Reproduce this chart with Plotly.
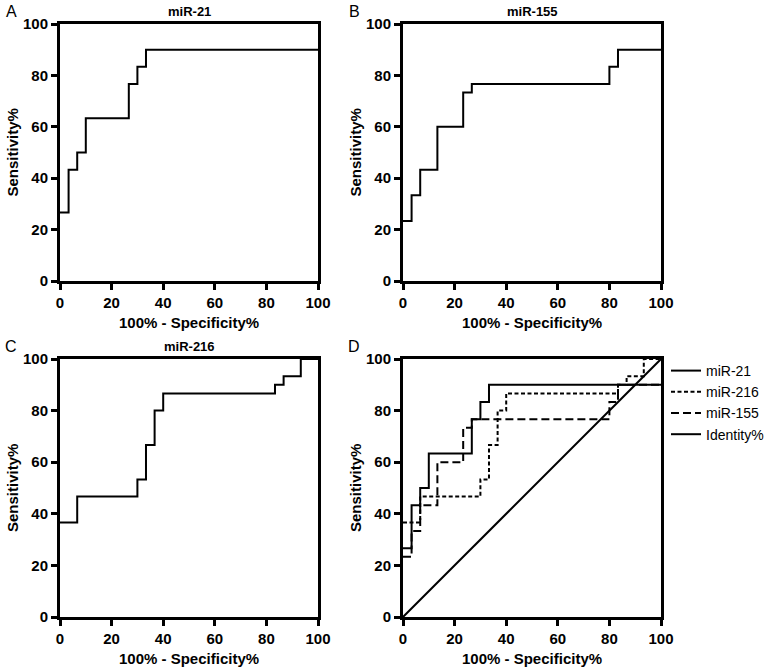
import plotly.graph_objects as go

W, H = 784, 671

# ---- data ----
fpr_mir21 = [0, 3.33, 6.67, 10, 26.67, 30, 33.33, 100]
sens_mir21 = [26.67, 43.33, 50, 63.33, 76.67, 83.33, 90, 90]

fpr_mir155 = [0, 3.33, 6.67, 13.33, 23.33, 26.67, 80, 83.33, 100]
sens_mir155 = [23.33, 33.33, 43.33, 60, 73.33, 76.67, 83.33, 90, 90]

fpr_mir216 = [0, 6.67, 30, 33.33, 36.67, 40, 83.33, 86.67, 93.33, 100]
sens_mir216 = [36.67, 46.67, 53.33, 66.67, 80, 86.67, 90, 93.33, 100, 100]

identity_x = [0, 100]
identity_y = [0, 100]

tick_vals = [0, 20, 40, 60, 80, 100]
tick_text = ["0", "20", "40", "60", "80", "100"]

panel_letters = ["A", "B", "C", "D"]
panel_titles = ["miR-21", "miR-155", "miR-216", ""]
x_title = "100% - Specificity%"
y_title = "Sensitivity%"


def px_x(p):
    return p / W


def px_y(p):
    return 1 - p / H


FONT = "Arial, Liberation Sans, Helvetica, sans-serif"

# panel domains in window pixels
left_x = (60, 318)
right_x = (403, 661)
top_y = (24, 281)
bot_y = (359, 617)

panels = [
    ("x", "y", left_x, top_y),
    ("x2", "y2", right_x, top_y),
    ("x3", "y3", left_x, bot_y),
    ("x4", "y4", right_x, bot_y),
]

fig = go.Figure()

line_black = dict(color="black", width=2)

# Panel A
fig.add_trace(go.Scatter(x=fpr_mir21, y=sens_mir21, mode="lines", line=dict(**line_black, shape="hv"),
                         xaxis="x", yaxis="y", showlegend=False))
# Panel B
fig.add_trace(go.Scatter(x=fpr_mir155, y=sens_mir155, mode="lines", line=dict(**line_black, shape="hv"),
                         xaxis="x2", yaxis="y2", showlegend=False))
# Panel C
fig.add_trace(go.Scatter(x=fpr_mir216, y=sens_mir216, mode="lines", line=dict(**line_black, shape="hv"),
                         xaxis="x3", yaxis="y3", showlegend=False))
# Panel D
fig.add_trace(go.Scatter(x=fpr_mir21, y=sens_mir21, mode="lines", name="miR-21",
                         line=dict(color="black", width=2, shape="hv"), xaxis="x4", yaxis="y4"))
fig.add_trace(go.Scatter(x=fpr_mir216, y=sens_mir216, mode="lines", name="miR-216",
                         line=dict(color="black", width=2, shape="hv", dash="4px,2.5px"), xaxis="x4", yaxis="y4"))
fig.add_trace(go.Scatter(x=fpr_mir155, y=sens_mir155, mode="lines", name="miR-155",
                         line=dict(color="black", width=2, shape="hv", dash="8px,4px"), xaxis="x4", yaxis="y4"))
fig.add_trace(go.Scatter(x=identity_x, y=identity_y, mode="lines", name="Identity%",
                         line=dict(color="black", width=2), xaxis="x4", yaxis="y4"))

layout = dict(
    width=W, height=H,
    margin=dict(l=0, r=0, t=0, b=0, pad=0, autoexpand=False),
    paper_bgcolor="white", plot_bgcolor="white",
    font=dict(family=FONT, color="black"),
    showlegend=True,
    legend=dict(x=px_x(666), y=px_y(355), xanchor="left", yanchor="top",
                font=dict(family=FONT, size=14, color="black"),
                bgcolor="rgba(0,0,0,0)", borderwidth=0, tracegroupgap=0),
)

annotations = []
for i, (xa, ya, xd, yd) in enumerate(panels):
    suffix = "" if i == 0 else str(i + 1)
    axis_common = dict(
        range=[0, 100], tickvals=tick_vals, ticktext=tick_text,
        showline=True, linecolor="black", linewidth=3, mirror=True,
        ticks="outside", ticklen=6, tickwidth=3, tickcolor="black",
        showgrid=False, zeroline=False, fixedrange=True,
        tickfont=dict(family=FONT, size=15, color="black", weight="bold"),
    )
    layout["xaxis" + suffix] = dict(axis_common, domain=[px_x(xd[0]), px_x(xd[1])], anchor=ya)
    layout["yaxis" + suffix] = dict(axis_common, domain=[px_y(yd[1]), px_y(yd[0])], anchor=xa)

    cx = (xd[0] + xd[1]) / 2
    cy = (yd[0] + yd[1]) / 2
    # x title
    annotations.append(dict(text=x_title, x=px_x(cx), y=px_y(yd[1] + 41), xref="paper", yref="paper",
                            xanchor="center", yanchor="middle", showarrow=False,
                            font=dict(family=FONT, size=15, color="black", weight="bold")))
    # y title
    annotations.append(dict(text=y_title, x=px_x(xd[0] - 48), y=px_y(cy), xref="paper", yref="paper",
                            xanchor="center", yanchor="middle", showarrow=False, textangle=-90,
                            font=dict(family=FONT, size=15, color="black", weight="bold")))
    # panel title
    if panel_titles[i]:
        annotations.append(dict(text=panel_titles[i], x=px_x(cx), y=px_y(yd[0] - 13), xref="paper", yref="paper",
                                xanchor="center", yanchor="middle", showarrow=False,
                                font=dict(family=FONT, size=13, color="black", weight="bold")))
    # panel letter
    annotations.append(dict(text=panel_letters[i], x=px_x(xd[0] - 49), y=px_y(yd[0] - 12), xref="paper", yref="paper",
                            xanchor="center", yanchor="middle", showarrow=False,
                            font=dict(family=FONT, size=16, color="black")))

layout["annotations"] = annotations
fig.update_layout(**layout)

# remove the default 8px page margin so the figure fills the window exactly
fig.write_html("out.html", config={"displayModeBar": False},
               post_script="document.body.style.margin='0';")
